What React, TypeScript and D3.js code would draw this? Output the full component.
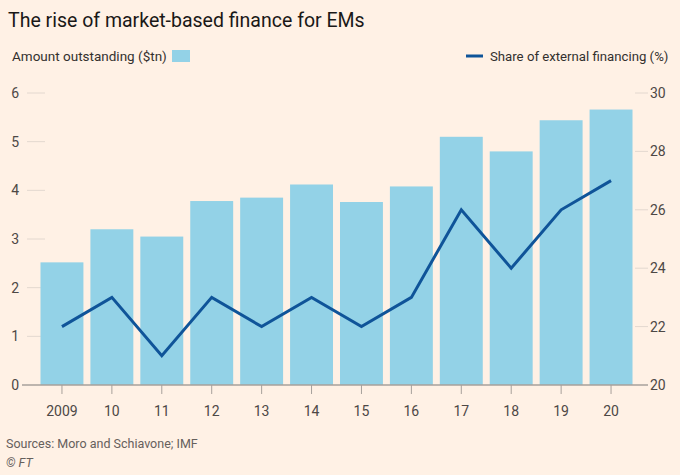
import React from 'react';
import * as d3 from 'd3';

const years = ['2009', '10', '11', '12', '13', '14', '15', '16', '17', '18', '19', '20'];
const amount = [2.52, 3.2, 3.05, 3.78, 3.85, 4.12, 3.76, 4.08, 5.1, 4.8, 5.44, 5.66];
const share = [22, 23, 21, 23, 22, 23, 22, 23, 26, 24, 26, 27];
const leftTicks = [0, 1, 2, 3, 4, 5, 6];
const rightTicks = [20, 22, 24, 26, 28, 30];

const W = 680;
const H = 475;
const BG = '#fff1e5';
const BAR = '#93d2e7';
const LINE = '#0f5499';
const TXT = '#33302e';
const FONT = 'Roboto, "Noto Sans", sans-serif';

export default function App() {
  const x = d3.scaleBand<string>().domain(years).range([37, 636]).paddingInner(0.14).paddingOuter(0.07);
  const yL = d3.scaleLinear().domain([0, 6]).range([385, 93]);
  const yR = d3.scaleLinear().domain([20, 30]).range([385, 93]);
  const cx = (d: string) => (x(d) || 0) + x.bandwidth() / 2;

  const line = d3.line<number>()
    .x((_, i) => cx(years[i]))
    .y(d => yR(d));

  return (
    <div style={{ position: 'absolute', left: 0, top: 0 }}>
      <svg width={W} height={H} style={{ display: 'block', background: BG, fontFamily: FONT }}>
        <rect width={W} height={H} fill={BG} />
        <text x={8} y={27} fontSize={19.5} fill="#1a1817">The rise of market-based finance for EMs</text>

        {/* legend */}
        <text x={12} y={61} fontSize={13.5} fill={TXT}>Amount outstanding ($tn)</text>
        <rect x={172} y={50} width={18} height={12} fill={BAR} />
        <line x1={466} x2={483} y1={56} y2={56} stroke={LINE} strokeWidth={3} />
        <text x={490} y={61} fontSize={13.2} fill={TXT}>Share of external financing (%)</text>

        {/* left ticks */}
        {leftTicks.map(t => (
          <g key={'l' + t}>
            {t > 0 && <line x1={27} x2={45} y1={yL(t)} y2={yL(t)} stroke="#e3d8cf" strokeWidth={1} />}
            <text x={19} y={yL(t) + 5} fontSize={14} fill="#4d4845" textAnchor="end">{t}</text>
          </g>
        ))}
        {/* right ticks */}
        {rightTicks.map(t => (
          <g key={'r' + t}>
            {t > 20 && <line x1={635} x2={648} y1={yR(t)} y2={yR(t)} stroke="#e3d8cf" strokeWidth={1} />}
            <text x={650} y={yR(t) + 5} fontSize={14} fill="#4d4845">{t}</text>
          </g>
        ))}

        {/* bars */}
        {years.map((d, i) => (
          <rect key={d} x={x(d)} y={yL(amount[i])} width={x.bandwidth()} height={yL(0) - yL(amount[i])} fill={BAR} />
        ))}

        {/* baseline and x ticks */}
        <line x1={22} x2={648} y1={yL(0)} y2={yL(0)} stroke="#a7a09b" strokeWidth={1.3} />
        {years.map(d => (
          <g key={'x' + d}>
            <line x1={cx(d)} x2={cx(d)} y1={yL(0)} y2={yL(0) + 9} stroke="#a7a09b" strokeWidth={1} />
            <text x={cx(d)} y={416} fontSize={14} fill="#4d4845" textAnchor="middle">{d}</text>
          </g>
        ))}

        {/* line */}
        <path d={line(share) || ''} fill="none" stroke={LINE} strokeWidth={3} strokeLinejoin="miter" />

        <text x={6} y={448} fontSize={12.5} fill="#66605c">Sources: Moro and Schiavone; IMF</text>
        <text x={6} y={467} fontSize={12.5} fill="#66605c" fontStyle="italic">© FT</text>
      </svg>
    </div>
  );
}
